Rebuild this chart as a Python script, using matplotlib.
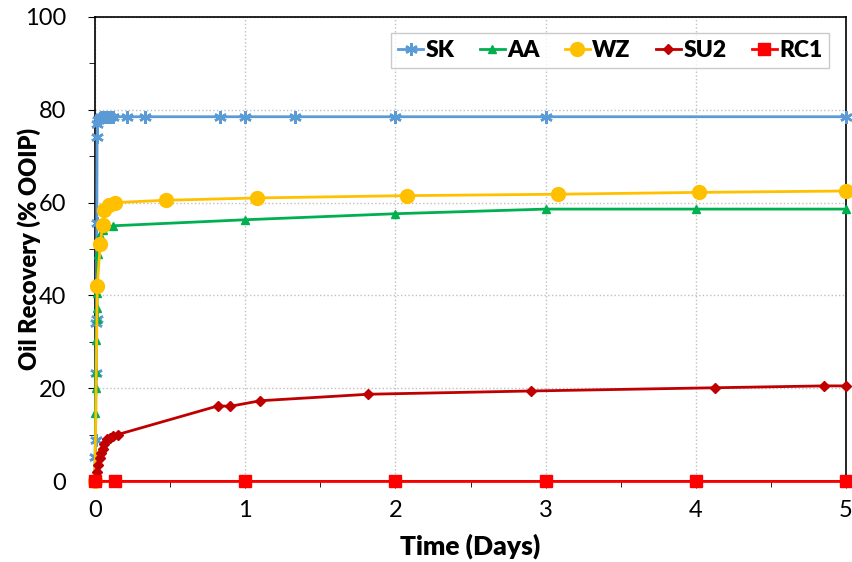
"""
Oil recovery vs time for five samples
"""
import matplotlib.pyplot as plt
from matplotlib.ticker import MultipleLocator

plt.rcParams['font.family'] = ['Lato', 'DejaVu Sans']

# Data
sk_t = [0, 0.002, 0.004, 0.006, 0.008, 0.010, 0.012, 0.014, 0.016, 0.02, 0.03,
        0.04, 0.05, 0.06, 0.08, 0.1, 0.12, 0.21, 0.33, 0.83, 1.0, 1.33, 2.0, 3.0, 5.0]
sk_y = [0, 5.2, 8.8, 23.3, 34.0, 35.0, 55.6, 74.2, 77.0, 77.8, 78.2,
        78.4, 78.5, 78.5, 78.5, 78.5, 78.5, 78.5, 78.5, 78.5, 78.5, 78.5, 78.5, 78.5, 78.5]

aa_t = [0, 0.003, 0.005, 0.007, 0.009, 0.011, 0.013, 0.015, 0.018, 0.022, 0.03,
        0.05, 0.12, 1.0, 2.0, 3.0, 4.0, 5.0]
aa_y = [0, 14.7, 20.0, 23.5, 30.4, 35.0, 37.3, 40.5, 49.0, 51.5, 53.0,
        54.0, 55.0, 56.3, 57.6, 58.6, 58.6, 58.6]

wz_t = [0, 0.015, 0.035, 0.05, 0.06, 0.09, 0.13, 0.47, 1.08, 2.08, 3.08, 4.02, 5.0]
wz_y = [0, 42.0, 51.0, 55.2, 58.4, 59.5, 60.0, 60.5, 61.0, 61.5, 61.8, 62.2, 62.5]

su2_t = [0, 0.01, 0.02, 0.03, 0.04, 0.05, 0.06, 0.08, 0.1, 0.12, 0.15,
         0.82, 0.9, 1.1, 1.82, 2.9, 4.13, 4.85, 5.0]
su2_y = [0, 2.0, 3.5, 5.0, 6.0, 7.0, 8.0, 9.0, 9.3, 9.7, 10.0,
         16.2, 16.1, 17.3, 18.7, 19.4, 20.1, 20.5, 20.5]

rc1_t = [0, 0.13, 1.0, 2.0, 3.0, 4.0, 5.0]
rc1_y = [0, 0, 0, 0, 0, 0, 0]

fig = plt.figure(figsize=(8.52, 5.62), dpi=100)
ax = fig.add_axes([0.1115, 0.1441, 0.8815, 0.8257])

ax.plot(sk_t, sk_y, color='#5B9BD5', lw=2, marker=(6, 2, 0), ms=9, mew=1.8,
        label='SK', zorder=3, clip_on=False)
ax.plot(aa_t, aa_y, color='#00B050', lw=2, marker='^', ms=6,
        label='AA', zorder=4, clip_on=False)
ax.plot(wz_t, wz_y, color='#FFC000', lw=2, marker='o', ms=10,
        label='WZ', zorder=5, clip_on=False)
ax.plot(su2_t, su2_y, color='#C00000', lw=2, marker='D', ms=5,
        label='SU2', zorder=6, clip_on=False)
ax.plot(rc1_t, rc1_y, color='#FF0000', lw=2, marker='s', ms=8,
        label='RC1', zorder=7, clip_on=False)

ax.set_xlim(0, 5)
ax.set_ylim(0, 100)
ax.xaxis.set_major_locator(MultipleLocator(1))
ax.xaxis.set_minor_locator(MultipleLocator(0.5))
ax.yaxis.set_major_locator(MultipleLocator(20))
ax.yaxis.set_minor_locator(MultipleLocator(10))
ax.tick_params(which='both', direction='out', labelsize=17)
ax.tick_params(which='major', length=5)
ax.tick_params(which='minor', length=4)
ax.tick_params(axis='x', which='major', pad=9)
ax.tick_params(axis='y', which='major', pad=16)
ax.grid(True, which='major', color='#BFBFBF', linestyle=':', linewidth=1)
ax.set_axisbelow(True)
for s in ax.spines.values():
    s.set_color('black')
    s.set_linewidth(1.2)

xl = ax.set_xlabel('Time (Days)', fontsize=19, fontweight='heavy')
yl = ax.set_ylabel('Oil Recovery (% OOIP)', fontsize=17, fontweight='heavy')
ax.xaxis.set_label_coords(0.5, -0.141)
xl.set_va('center')
ax.yaxis.set_label_coords(-0.088, 0.5)
yl.set_va('center')

leg = ax.legend(loc='upper right', ncol=5, fontsize=16.5, frameon=True, fancybox=False,
                handlelength=1.1, handletextpad=0.1, columnspacing=1.1,
                borderpad=0.3, bbox_to_anchor=(0.993, 0.99))
leg.get_frame().set_edgecolor('#BFBFBF')
leg.get_frame().set_linewidth(1)
for t in leg.get_texts():
    t.set_fontweight('heavy')

plt.savefig('out.png', dpi=100, facecolor='white')
